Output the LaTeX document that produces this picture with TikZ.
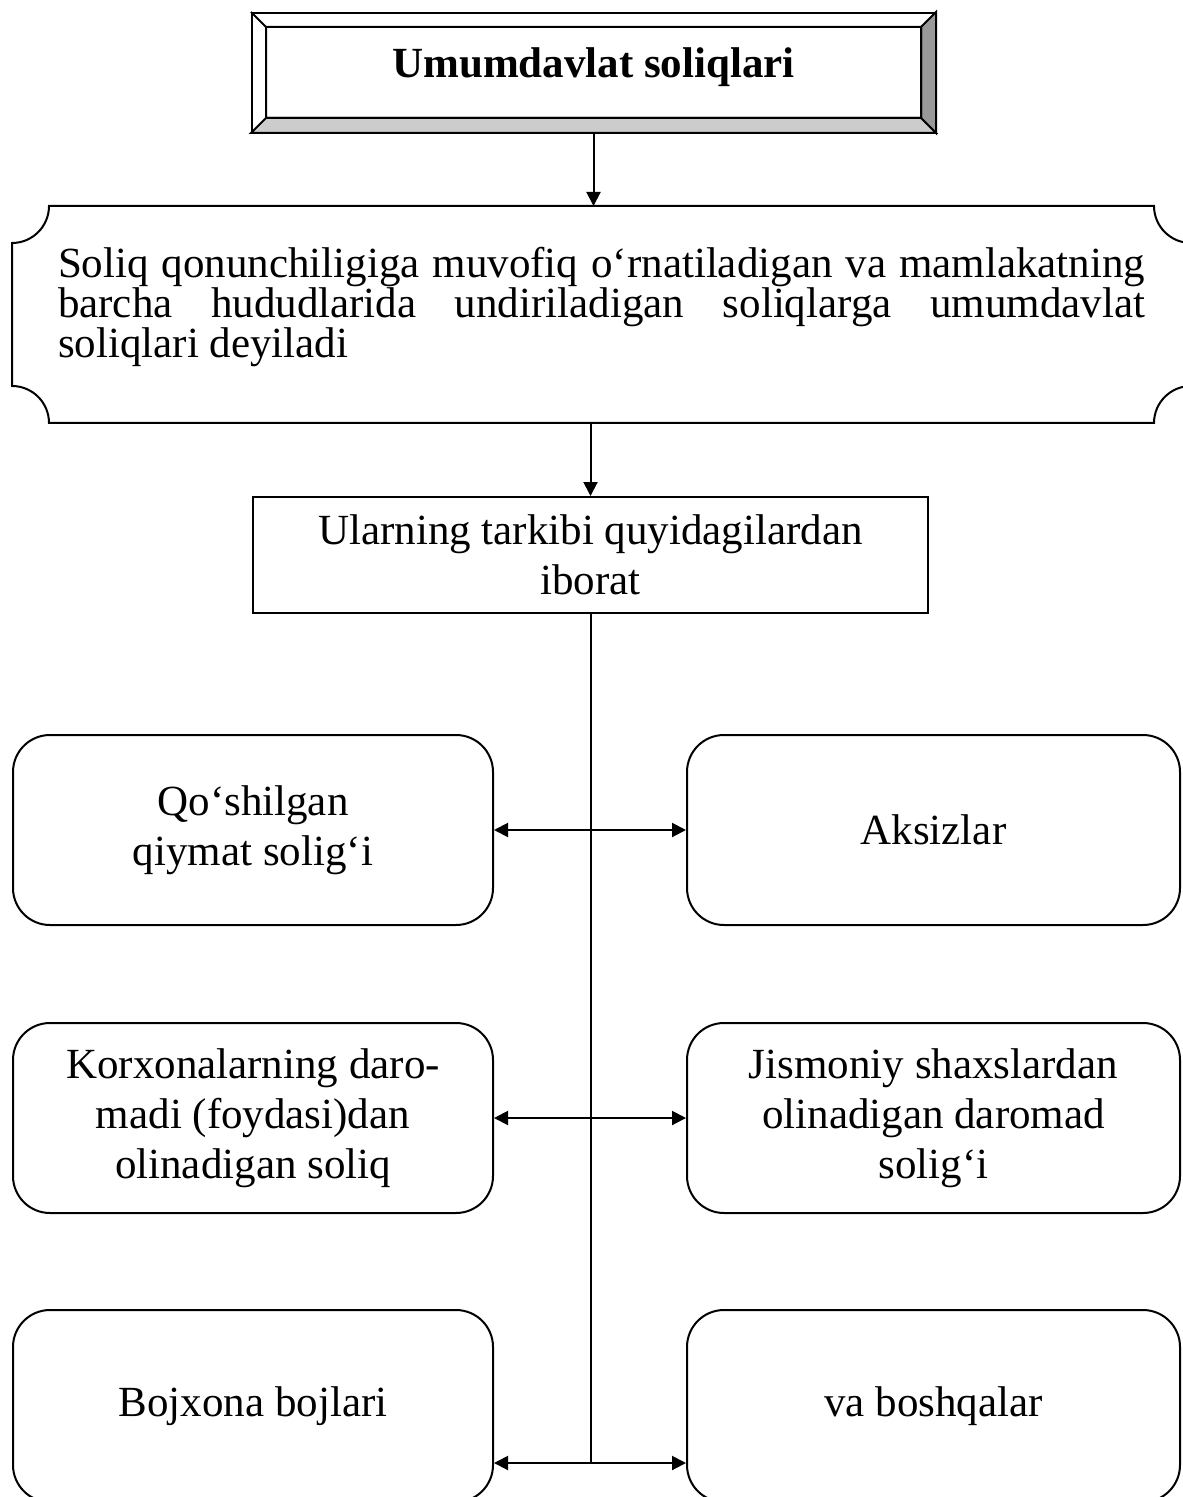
\documentclass[tikz,border=0pt]{standalone}
\usepackage{fontspec}
\setmainfont{Liberation Serif}
\usetikzlibrary{calc,arrows.meta}

\begin{document}
\begin{tikzpicture}[x=0.5pt,y=-0.5pt, line width=1pt,
    arr/.style={-{Triangle[length=7pt,width=7pt]}},
    arrs/.style={{Triangle[length=7pt,width=7pt]}-{Triangle[length=7pt,width=7pt]}},
    txt/.style={font=\fontsize{21.5}{25}\selectfont, align=center, inner sep=0pt},
    tbox/.style={txt, draw, rounded corners=18.5pt, minimum width=240pt, minimum height=95pt},
    rbox/.style={tbox, minimum width=246.5pt}]
    \useasboundingbox (0,0) rectangle (1182,1497);

    % title with bevel
    \node[txt, draw, fill=white, minimum width=341.5pt, minimum height=59.5pt,
          text height=20pt, text depth=15pt, font=\fontsize{21.5}{25}\selectfont\bfseries]
          (title) at (593.5,72.5) {Umumdavlat soliqlari};
    \coordinate (tnw) at ($(title.north west)+(15,15)$);
    \coordinate (tne) at ($(title.north east)+(-15,15)$);
    \coordinate (tse) at ($(title.south east)+(-15,-15)$);
    \coordinate (tsw) at ($(title.south west)+(15,-15)$);
    \filldraw[fill=black!40] (title.north east) -- (title.south east) -- (tse) -- (tne) -- cycle;
    \filldraw[fill=black!20] (title.south west) -- (title.south east) -- (tse) -- (tsw) -- cycle;
    \draw (title.north west) -- (tnw) rectangle (tse);

    % definition plaque
    \node[minimum width=588.5pt, minimum height=107.5pt, inner sep=0pt] (defn) at (601.5,314.5) {};
    \draw ($(defn.north west)+(37,0)$) -- ($(defn.north east)+(-37,0)$)
        arc[start angle=180, end angle=90, radius=37] -- ($(defn.south east)+(0,-37)$)
        arc[start angle=270, end angle=180, radius=37] -- ($(defn.south west)+(37,0)$)
        arc[start angle=0, end angle=-90, radius=37] -- ($(defn.north west)+(0,37)$)
        arc[start angle=90, end angle=0, radius=37] -- cycle;
    \node[txt, text width=543.5pt, align=justify] (defntxt) at ($(defn.center)+(0,-7)$)
        {\fontsize{21.5}{20}\selectfont\lineskiplimit=-20pt\hyphenpenalty=10000\tolerance=10000
         Soliq qonunchiligiga muvofiq o‘rnatiladigan va mamlakatning barcha hududlarida
         undiriladigan soliqlarga umumdavlat soliqlari deyiladi\par};

    \node[txt, draw, minimum width=337.5pt, minimum height=58pt] (list) at (590.5,555)
        {Ularning tarkibi quyidagilardan\\iborat};

    \node[tbox] (qqs) at (253,830) {Qo‘shilgan\\qiymat solig‘i};
    \node[rbox] (aks) at (933.5,830) {Aksizlar};
    \node[tbox] (kds) at (253,1118) {Korxonalarning daro-\\madi (foydasi)dan\\olinadigan soliq};
    \node[rbox] (jsh) at (933.5,1118) {Jismoniy shaxslardan\\olinadigan daromad\\solig‘i};
    \node[tbox, minimum height=96pt] (boj) at (253,1406) {Bojxona bojlari};
    \node[rbox, minimum height=96pt] (vab) at (933.5,1406) {va boshqalar};

    \draw[arr] (title.south) -- (title.south |- defn.north);
    \draw[arr] (list.north |- defn.south) -- (list.north);
    \path (list.south) ++(0,849) coordinate (hub);
    \draw (list.south) -- (hub);
    \draw[arrs] (qqs.east) -- (aks.west);
    \draw[arrs] (kds.east) -- (jsh.west);
    \draw[arr] (hub) -- (hub -| boj.east);
    \draw[arr] (hub) -- (hub -| vab.west);
\end{tikzpicture}
\end{document}
